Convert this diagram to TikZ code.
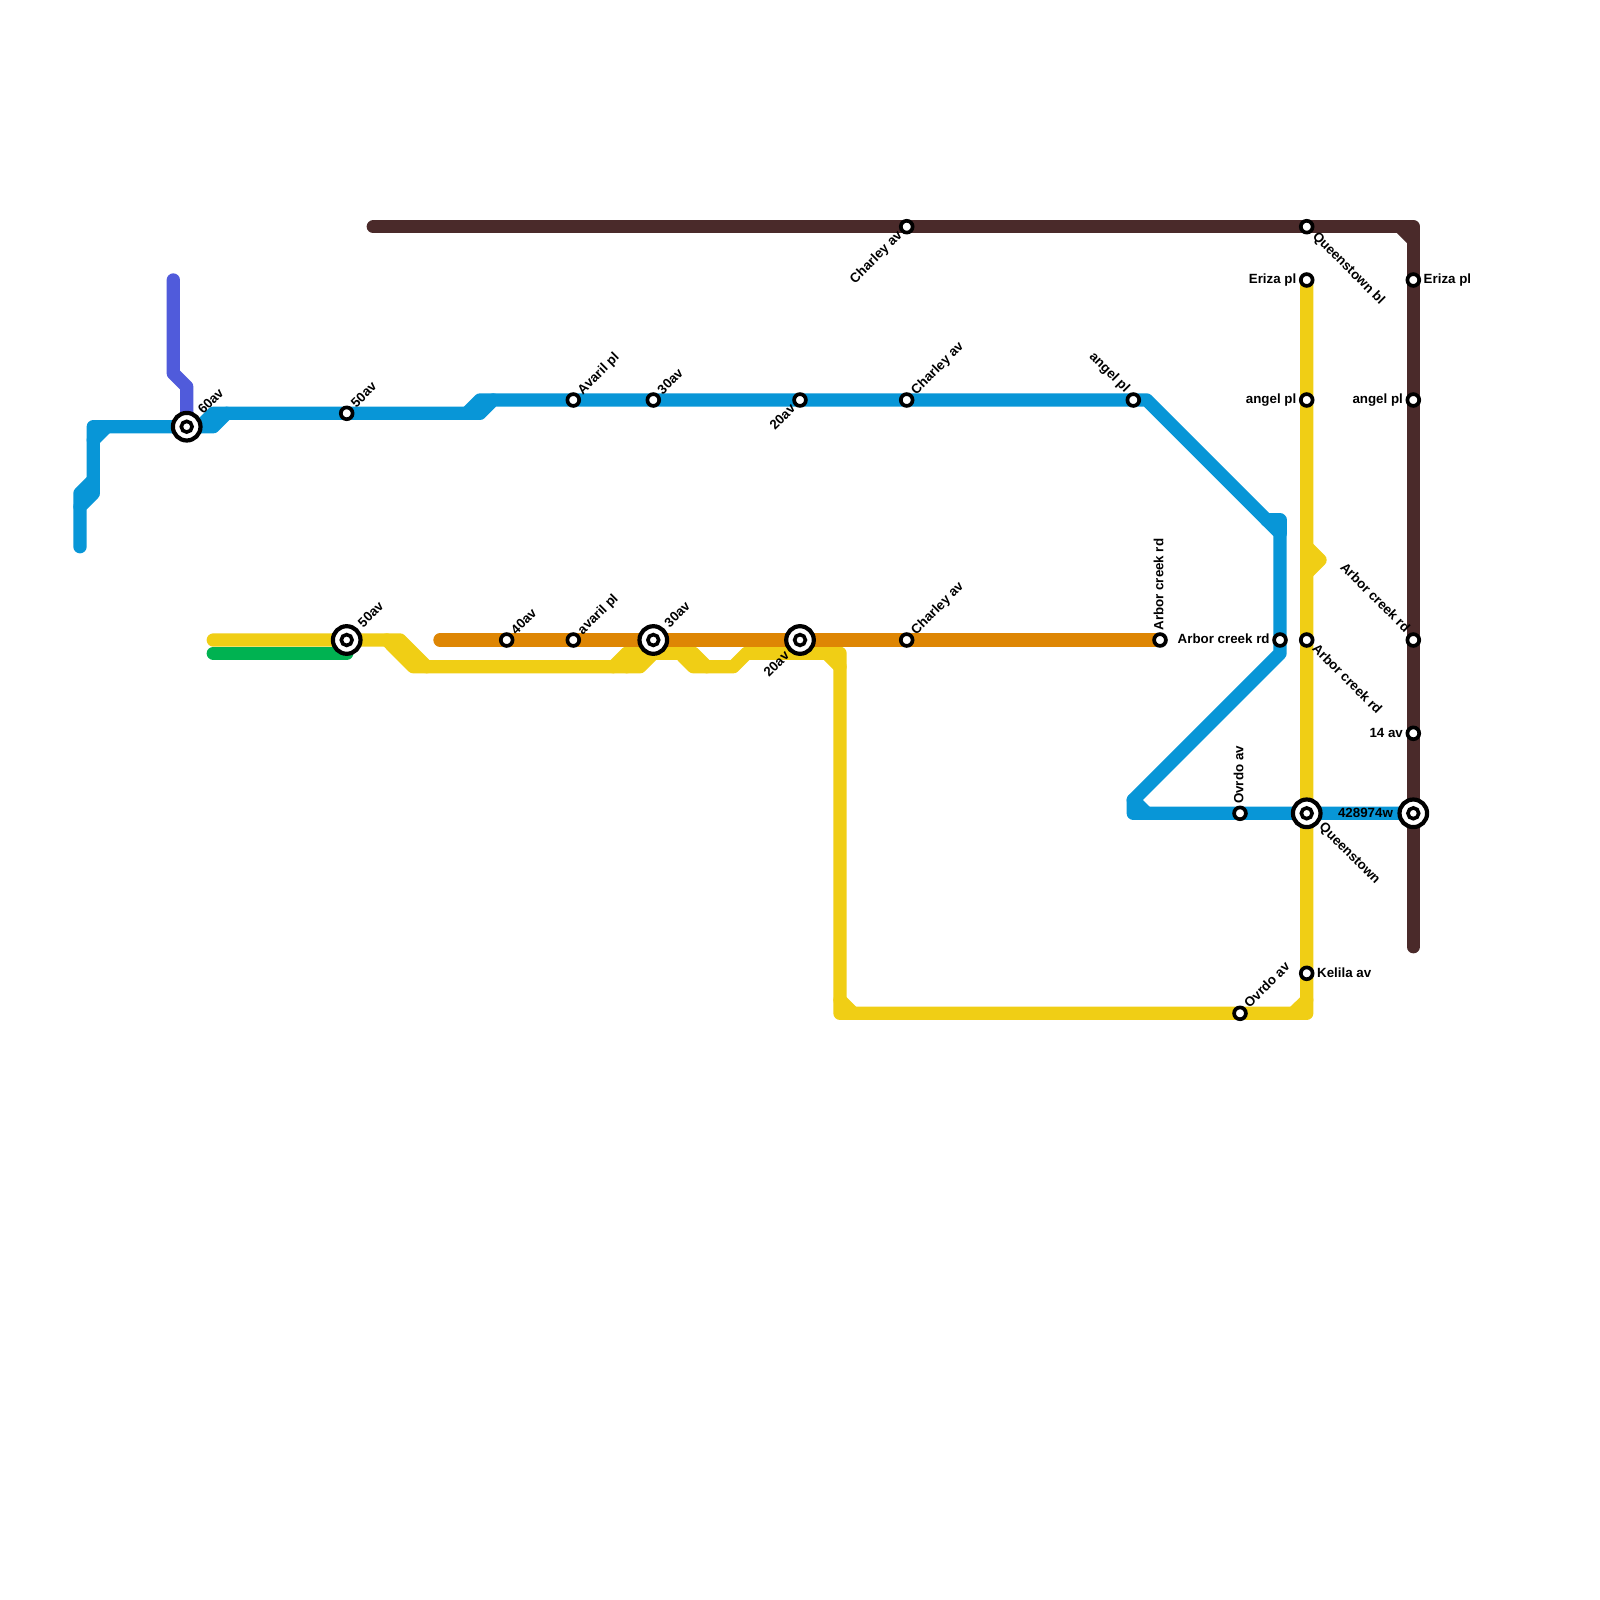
\documentclass[tikz,border=0pt]{standalone}
\usepackage{fontspec}
\setmainfont{Liberation Sans}
\usetikzlibrary{backgrounds,calc}

\tikzset{
    station/.style={circle,draw=black,fill=white,line width=1.85pt,minimum size=5.9pt,inner sep=0pt,outer sep=0pt},
    hubcore/.style={circle,draw=black,fill=white,line width=1.8pt,minimum size=5.4pt,inner sep=0pt,outer sep=0pt},
    hub/.style={circle,draw=black,fill=white,line width=2.1pt,minimum size=13.8pt,inner sep=0pt,outer sep=0pt,label={[hubcore]center:{}}},
    stationtext/.style={font=\fontsize{6.67pt}{7pt}\selectfont\bfseries,inner sep=0pt,text height=4.8pt,text depth=1.4pt},
    metroline/.style={line width=6.67pt,line cap=round,line join=round},
    blueline/.style={metroline,draw=lineblue},
    yellowline/.style={metroline,draw=lineyellow},
    brownline/.style={metroline,draw=linebrown},
}
\definecolor{lineblue}{HTML}{0896D7}
\definecolor{lineyellow}{HTML}{F0CE15}
\definecolor{linebrown}{HTML}{4A2A2A}
\definecolor{lineorange}{HTML}{DE8604}
\definecolor{linegreen}{HTML}{00B251}
\definecolor{linepurple}{HTML}{505BDB}

\begin{document}
\begin{tikzpicture}[x=0.5pt,y=-0.5pt]
    \useasboundingbox (0,0) rectangle (1600,1600);

    % stations on the upper blue line
    \node[hub] (hubSixty) at (186.7,426.7) {};
    \node[station] (stFifty) at (346.7,413.3) {};
    \node[station] (stAvaril) at (573.3,400) {};
    \node[station] (stThirty) at (653.3,400) {};
    \node[station] (stTwenty) at (800,400) {};
    \node[station] (stCharley) at (906.7,400) {};
    \node[station] (stAngel) at (1133.3,400) {};
    \node[station] (stArborBlue) at (1280,640) {};
    \node[station] (stOvrdo) at (1240,813.3) {};
    \node[hub] (hubQueens) at (1306.7,813.3) {};
    \node[hub] (hubFar) at (1413.3,813.3) {};

    % stations on the yellow line
    \node[hub] (hubFifty) at (346.7,640) {};
    \node[station] (stOvrdoLow) at (1240,1013.3) {};
    \node[station] (stKelila) at (1306.7,973.3) {};
    \node[station] (stArborYellow) at (1306.7,640) {};
    \node[station] (stAngelYellow) at (1306.7,400) {};
    \node[station] (stErizaYellow) at (1306.7,280) {};

    % stations on the orange line
    \node[station] (stForty) at (506.7,640) {};
    \node[station] (stAvarilLow) at (573.3,640) {};
    \node[hub] (hubThirty) at (653.3,640) {};
    \node[hub] (hubTwenty) at (800,640) {};
    \node[station] (stCharleyLow) at (906.7,640) {};
    \node[station] (stArborOrange) at (1160,640) {};

    % stations on the brown line
    \node[station] (stCharleyTop) at (906.7,226.7) {};
    \node[station] (stQueensTop) at (1306.7,226.7) {};
    \node[station] (stEriza) at (1413.3,280) {};
    \node[station] (stAngelBrown) at (1413.3,400) {};
    \node[station] (stArborBrown) at (1413.3,640) {};
    \node[station] (stFourteen) at (1413.3,733.3) {};

    % free line ends
    \coordinate (endPurple) at (173.3,280);
    \coordinate (endBlue) at (80,546.7);
    \coordinate (endGreen) at (213.3,653.3);
    \coordinate (endYellow) at (213.3,640);
    \coordinate (endOrange) at (440,640);
    \coordinate (endBrown) at (373.3,226.7);
    \coordinate (endBrownLow) at (1413.3,946.7);

    \begin{pgfonlayer}{background}
        % green and purple
        \draw[metroline,draw=linegreen] (endGreen) -- (hubFifty.center |- endGreen);
        \draw[metroline,draw=linepurple] (endPurple) -- (173.3,373.3) -- (186.7,386.7) -- (hubSixty.center);

        % yellow
        \draw[yellowline] (endYellow) -- (400,640) -- (426.7,666.7) -- (640,666.7) -- (653.3,653.3) -- (680,653.3) -- (693.3,666.7) -- (733.3,666.7) -- (746.7,653.3) -- (840,653.3) -- (840,1013.3) -- (1306.7,1013.3) -- (stErizaYellow.center);
        \draw[yellowline] (386.7,640) -- (413.3,666.7) -- (426.7,666.7);
        \draw[yellowline] (613.3,666.7) -- (626.7,653.3) -- (653.3,653.3);
        \draw[yellowline] (626.7,666.7) -- (640,653.3);
        \draw[yellowline] (680,653.3) -- (693.3,653.3) -- (706.7,666.7);
        \draw[yellowline] (826.7,653.3) -- (840,666.7);
        \draw[yellowline] (840,1000) -- (853.3,1013.3);
        \draw[yellowline] (1293.3,1013.3) -- (1306.7,1000);
        \draw[yellowline] (1306.7,546.7) -- (1320,560) -- (1306.7,573.3);

        % orange
        \draw[metroline,draw=lineorange] (endOrange) -- (stArborOrange.center);

        % blue
        \draw[blueline] (endBlue) -- (80,506.7) -- (93.3,493.3) -- (93.3,426.7) -- (hubSixty.center) -- (213.3,426.7) -- (226.7,413.3) -- (480,413.3) -- (493.3,400) -- (1146.7,400) -- (1280,533.3) -- (1280,653.3) -- (1133.3,800) -- (1133.3,813.3) -- (hubFar.center);
        \draw[blueline] (80,506.7) -- (80,493.3) -- (93.3,480);
        \draw[blueline] (93.3,440) -- (106.7,426.7);
        \draw[blueline] (200,426.7) -- (213.3,413.3) -- (226.7,413.3);
        \draw[blueline] (466.7,413.3) -- (480,400) -- (493.3,400);
        \draw[blueline] (1266.7,520) -- (1280,520) -- (1280,533.3);
        \draw[blueline] (1133.3,800) -- (1146.7,813.3);

        % brown
        \draw[brownline] (endBrown) -- (1413.3,226.7) -- (endBrownLow);
        \draw[brownline] (1400,226.7) -- (1413.3,240);
    \end{pgfonlayer}

    % labels going up to the right
    \node[stationtext,rotate=45,anchor=west] (lbSixty) at ($(hubSixty)+(14,-14)$) {60av};
    \node[stationtext,rotate=45,anchor=west] (lbFifty) at ($(stFifty)+(7,-7)$) {50av};
    \node[stationtext,rotate=45,anchor=west] (lbAvaril) at ($(stAvaril)+(7,-7)$) {Avaril pl};
    \node[stationtext,rotate=45,anchor=west] (lbThirty) at ($(stThirty)+(7,-7)$) {30av};
    \node[stationtext,rotate=45,anchor=west] (lbCharley) at ($(stCharley)+(7,-7)$) {Charley av};
    \node[stationtext,rotate=45,anchor=west] (lbFiftyLow) at ($(hubFifty)+(14,-14)$) {50av};
    \node[stationtext,rotate=45,anchor=west] (lbForty) at ($(stForty)+(7,-7)$) {40av};
    \node[stationtext,rotate=45,anchor=west] (lbAvarilLow) at ($(stAvarilLow)+(7,-7)$) {avaril pl};
    \node[stationtext,rotate=45,anchor=west] (lbThirtyLow) at ($(hubThirty)+(14,-14)$) {30av};
    \node[stationtext,rotate=45,anchor=west] (lbCharleyLow) at ($(stCharleyLow)+(7,-7)$) {Charley av};
    \node[stationtext,rotate=45,anchor=west] (lbOvrdoLow) at ($(stOvrdoLow)+(7,-7)$) {Ovrdo av};

    % labels going down to the left
    \node[stationtext,rotate=45,anchor=east] (lbTwenty) at ($(stTwenty)+(-6,7)$) {20av};
    \node[stationtext,rotate=45,anchor=east] (lbTwentyLow) at ($(hubTwenty)+(-12,14)$) {20av};
    \node[stationtext,rotate=45,anchor=east] (lbCharleyTop) at ($(stCharleyTop)+(-6,7)$) {Charley av};

    % labels going up to the left
    \node[stationtext,rotate=-45,anchor=east] (lbAngel) at ($(stAngel)+(-6,-9)$) {angel pl};
    \node[stationtext,rotate=-45,anchor=east] (lbArborBrown) at ($(stArborBrown)+(-6,-9)$) {Arbor creek rd};

    % labels going down to the right
    \node[stationtext,rotate=-45,anchor=west] (lbQueensTop) at ($(stQueensTop)+(7.5,8)$) {Queenstown bl};
    \node[stationtext,rotate=-45,anchor=west] (lbArborYellow) at ($(stArborYellow)+(7,7)$) {Arbor creek rd};
    \node[stationtext,rotate=-45,anchor=west] (lbQueens) at ($(hubQueens)+(14,12)$) {Queenstown};

    % upright labels
    \node[stationtext,rotate=90,anchor=west] (lbArborOrange) at ($(stArborOrange)+(0,-9)$) {Arbor creek rd};
    \node[stationtext,rotate=90,anchor=west] (lbOvrdo) at ($(stOvrdo)+(0,-9)$) {Ovrdo av};

    % level labels
    \node[stationtext,anchor=east] (lbArborBlue) at ($(stArborBlue)+(-10,0.5)$) {Arbor creek rd};
    \node[stationtext,anchor=east] (lbErizaYellow) at ($(stErizaYellow)+(-10,0.5)$) {Eriza pl};
    \node[stationtext,anchor=east] (lbAngelYellow) at ($(stAngelYellow)+(-10,0.5)$) {angel pl};
    \node[stationtext,anchor=east] (lbAngelBrown) at ($(stAngelBrown)+(-10,0.5)$) {angel pl};
    \node[stationtext,anchor=east] (lbFourteen) at ($(stFourteen)+(-10,0.5)$) {14 av};
    \node[stationtext,anchor=east] (lbFar) at ($(hubFar)+(-20,0.5)$) {428974w};
    \node[stationtext,anchor=west] (lbEriza) at ($(stEriza)+(10,0.5)$) {Eriza pl};
    \node[stationtext,anchor=west] (lbKelila) at ($(stKelila)+(10,0.5)$) {Kelila av};
\end{tikzpicture}
\end{document}
